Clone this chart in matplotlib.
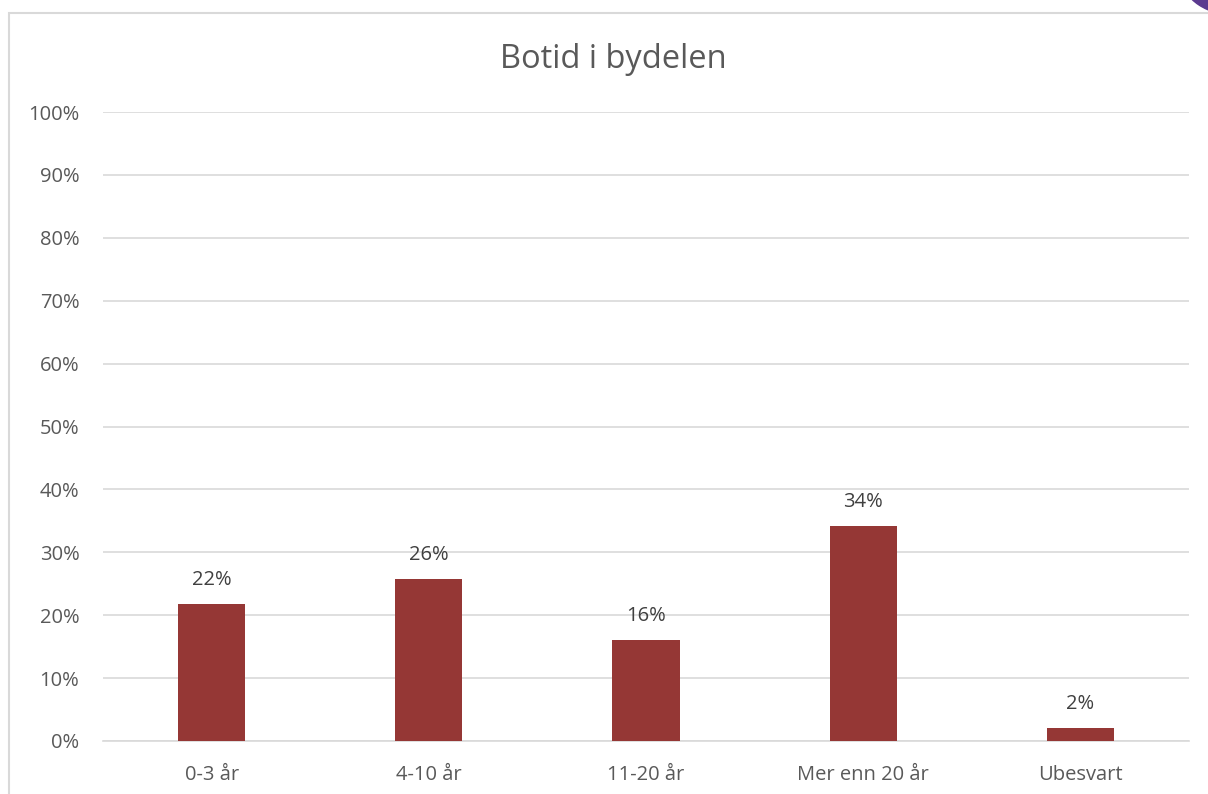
import matplotlib.pyplot as plt
from matplotlib.patches import Rectangle, Circle

# Data
categories = ["0-3 år", "4-10 år", "11-20 år", "Mer enn 20 år", "Ubesvart"]
values = [21.8, 25.8, 16.0, 34.2, 2.1]
labels = ["22%", "26%", "16%", "34%", "2%"]
yticks = list(range(0, 101, 10))

plt.rcParams['font.family'] = ['Open Sans', 'DejaVu Sans']
text_color = "#595959"
bar_color = "#953735"
grid_color = "#d9d9d9"

fig = plt.figure(figsize=(12.08, 7.94), dpi=100)
ax = fig.add_axes([103 / 1208, 53 / 794, 1086 / 1208, 629 / 794])

x = range(len(categories))
ax.bar(x, values, width=0.31, color=bar_color, zorder=3)
for xi, v, lab in zip(x, values, labels):
    ax.annotate(lab, (xi, v), xytext=(0, 10), textcoords="offset points",
                ha="center", va="bottom", fontsize=14.5, color="#404040")

ax.set_xlim(-0.5, len(categories) - 0.5)
ax.set_ylim(0, 100)
ax.set_yticks(yticks)
ax.set_yticklabels([f"{t}%" for t in yticks])
ax.set_xticks(list(x))
ax.set_xticklabels(categories)
ax.tick_params(axis="both", length=0, labelsize=14.5, labelcolor=text_color)
ax.tick_params(axis="y", pad=17)
ax.tick_params(axis="x", pad=17)
ax.yaxis.grid(True, color=grid_color, linewidth=1.2, zorder=0)
for side in ["top", "right", "left"]:
    ax.spines[side].set_visible(False)
ax.spines["bottom"].set_color(grid_color)
ax.spines["bottom"].set_linewidth(1.2)

fig.text(613 / 1208, 1 - 60 / 794, "Botid i bydelen", ha="center", va="center",
         fontsize=23.5, color=text_color)

# chart border and corner decoration
fig.patches.append(Rectangle((9 / 1208, -0.1), 1.2, 1 - 13 / 794 + 0.1,
                             transform=fig.transFigure, fill=False,
                             edgecolor=grid_color, linewidth=1.5))
fig.patches.append(Circle((1240 / 1208, 1 + 22 / 794), 58 / 1208,
                          transform=fig.transFigure, color="#5b3a8f"))

fig.savefig("out.png", dpi=100)
